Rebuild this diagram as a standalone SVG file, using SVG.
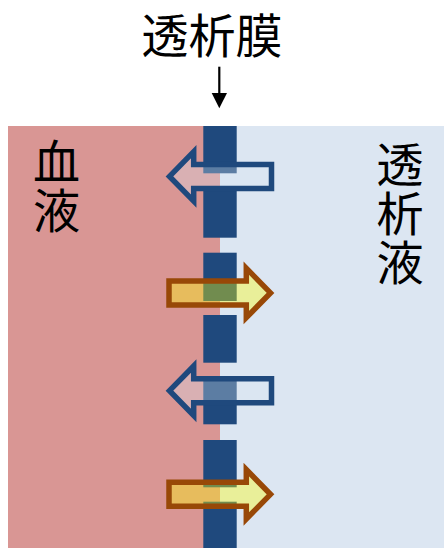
<svg xmlns="http://www.w3.org/2000/svg" width="444" height="548" viewBox="0 0 444 548">
  <style>
    .lbl { font-family: "Noto Sans CJK JP", "Noto Sans CJK SC", sans-serif; font-size: 47px; fill: #000; text-anchor: middle; }
    .mem { fill: #1f497d; }
    .outArrow { fill: #dce6f2; fill-opacity: 0.33; stroke: #1f497d; stroke-width: 5.5; stroke-linejoin: miter; }
    .inArrow { fill: #ffff00; fill-opacity: 0.37; stroke: #984807; stroke-width: 5.5; stroke-linejoin: miter; }
  </style>
  <rect width="444" height="548" fill="#ffffff"/>

  <g id="blood">
    <rect x="8" y="126" width="212" height="422" fill="#d99694"/>
    <text class="lbl"><tspan x="56.5" y="179">血</tspan><tspan x="56.5" y="228">液</tspan></text>
  </g>

  <g id="dialysate">
    <rect x="220" y="126" width="224" height="422" fill="#dce6f2"/>
    <text class="lbl"><tspan x="400" y="182">透</tspan><tspan x="400" y="231">析</tspan><tspan x="400" y="280">液</tspan></text>
  </g>

  <g id="membrane">
    <rect class="mem" x="203.3" y="126" width="33.4" height="47.3"/>
    <rect class="mem" x="203.3" y="188" width="33.4" height="49.7"/>
    <rect class="mem" x="203.3" y="252.7" width="33.4" height="48.3"/>
    <rect class="mem" x="203.3" y="315" width="33.4" height="47.7"/>
    <rect class="mem" x="203.3" y="377" width="33.4" height="47.3"/>
    <rect class="mem" x="203.3" y="440" width="33.4" height="47.3"/>
    <rect class="mem" x="203.3" y="501.7" width="33.4" height="46.3"/>
  </g>

  <g id="title">
    <text class="lbl" x="212" y="53">透析膜</text>
  </g>

  <g id="connectors">
    <line x1="219.3" y1="66.7" x2="219.3" y2="95" stroke="#000" stroke-width="2.2"/>
    <polygon points="211.7,93 227,93 219.3,108.3" fill="#000"/>
  </g>

  <g id="arrow-out-1">
    <path class="outArrow" d="M271.5,164.4 H193.7 V151.7 L169.5,176.4 L193.7,201.1 V188.4 H271.5 Z"/>
  </g>
  <g id="arrow-in-1">
    <path class="inArrow" d="M169,280.9 H246.3 V268.2 L270.5,292.9 L246.3,317.6 V304.9 H169 Z"/>
  </g>
  <g id="arrow-out-2">
    <path class="outArrow" d="M271.5,378.7 H193.7 V366 L169.5,390.7 L193.7,415.4 V402.7 H271.5 Z"/>
  </g>
  <g id="arrow-in-2">
    <path class="inArrow" d="M169,482.3 H246.3 V469.6 L270.5,494.3 L246.3,519 V506.3 H169 Z"/>
  </g>
</svg>
